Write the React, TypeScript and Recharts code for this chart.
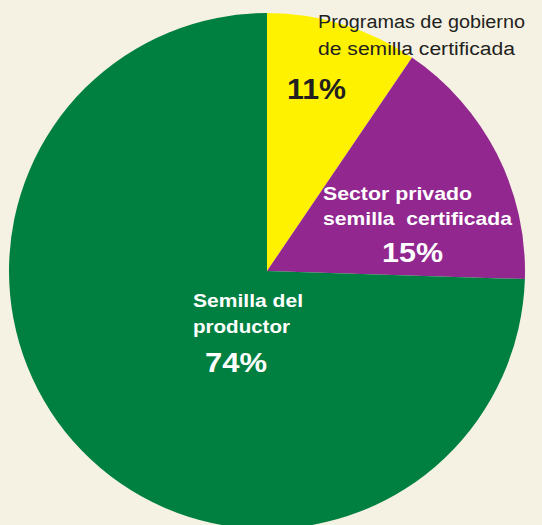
import { PieChart, Pie, Cell } from 'recharts';

// slice sizes as drawn in the picture (the printed labels say 11 / 15 / 74)
const categories = ['Programas de gobierno de semilla certificada', 'Sector privado semilla certificada', 'Semilla del productor'];
const shares = [9.5, 16, 74.5];
const percentLabels = ['11%', '15%', '74%'];
const colors = ['#fff200', '#92278f', '#008040'];

const data = categories.map((name, i) => ({ name, value: shares[i] }));

// label text lines per slice, offsets relative to the pie center
const labelLayouts = [
    {
        fill: '#231f20',
        lines: [
            { text: 'Programas de gobierno', dx: 51, dy: -243, size: 18, weight: 'normal', width: 207 },
            { text: 'de semilla certificada', dx: 51, dy: -216, size: 18, weight: 'normal', width: 197 },
            { text: percentLabels[0], dx: 20, dy: -172, size: 30, weight: 'bold', width: 59 },
        ],
    },
    {
        fill: '#ffffff',
        lines: [
            { text: 'Sector privado', dx: 56, dy: -71, size: 19, weight: 'bold', width: 149 },
            { text: 'semilla  certificada', dx: 56, dy: -46, size: 19, weight: 'bold', width: 189 },
            { text: percentLabels[1], dx: 115, dy: -9, size: 28, weight: 'bold', width: 61 },
        ],
    },
    {
        fill: '#ffffff',
        lines: [
            { text: 'Semilla del', dx: -74, dy: 36, size: 18, weight: 'bold', width: 110 },
            { text: 'productor', dx: -74, dy: 62, size: 18, weight: 'bold', width: 97 },
            { text: percentLabels[2], dx: -62, dy: 101, size: 28, weight: 'bold', width: 62 },
        ],
    },
];

const renderLabel = (props: any) => {
    const { cx, cy, index } = props;
    const layout = labelLayouts[index];
    return (
        <g key={`label-${index}`}>
            {layout.lines.map((l, j) => (
                <text
                    key={j}
                    x={cx + l.dx}
                    y={cy + l.dy}
                    fill={layout.fill}
                    textAnchor="start"
                    textLength={l.width}
                    lengthAdjust="spacingAndGlyphs"
                    style={{ fontFamily: 'Arial, "Liberation Sans", sans-serif', fontSize: l.size, fontWeight: l.weight as any, whiteSpace: 'pre' }}
                >
                    {l.text}
                </text>
            ))}
        </g>
    );
};

export default function App() {
    return (
        <div style={{ position: 'fixed', left: 0, top: 0, width: 542, height: 525, background: '#f5f2e4' }}>
            <PieChart width={542} height={525} margin={{ top: 0, right: 0, bottom: 0, left: 0 }}>
                <Pie
                    data={data}
                    dataKey="value"
                    nameKey="name"
                    cx={267}
                    cy={271}
                    outerRadius={258}
                    startAngle={90}
                    endAngle={-270}
                    stroke="none"
                    labelLine={false}
                    label={renderLabel}
                    isAnimationActive={false}
                >
                    {data.map((d, i) => (
                        <Cell key={d.name} fill={colors[i]} />
                    ))}
                </Pie>
            </PieChart>
        </div>
    );
}
